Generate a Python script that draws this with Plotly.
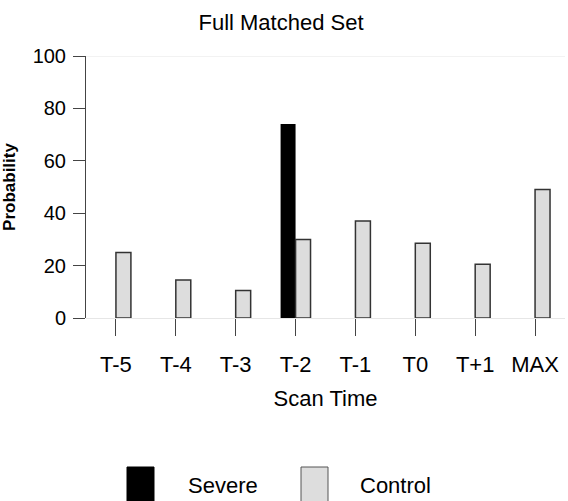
import plotly.graph_objects as go

categories = ["T-5", "T-4", "T-3", "T-2", "T-1", "T0", "T+1", "MAX"]
severe = [0, 0, 0, 74, 0, 0, 0, 0]
control = [25, 14.5, 10.5, 30, 37, 28.5, 20.5, 49]
y_ticks = [0, 20, 40, 60, 80, 100]

FONT = "Liberation Sans, Arial, sans-serif"

fig = go.Figure()
fig.add_trace(go.Bar(name="Severe", x=categories, y=severe,
                     marker=dict(color="#000000", line=dict(width=0))))
fig.add_trace(go.Bar(name="Control", x=categories, y=control,
                     marker=dict(color="#dddddd", line=dict(color="#333333", width=1.5))))

fig.update_layout(
    width=568, height=501,
    paper_bgcolor="white", plot_bgcolor="white",
    barmode="group", bargap=0.5, bargroupgap=0,
    showlegend=False,
    margin=dict(l=86, r=3, t=56, b=183),
    font=dict(family=FONT, color="#000000"),
    title=dict(text="Full Matched Set", x=281 / 568, xanchor="center", y=1 - 22 / 501, yanchor="middle",
               font=dict(size=22, family=FONT)),
)
fig.update_xaxes(
    type="category", range=[-0.5, 7.5],
    showline=False, showgrid=False, zeroline=False,
    ticks="outside", ticklen=17, tickwidth=1, tickcolor="#444444",
    tickfont=dict(size=22), ticklabelstandoff=10,
    title=dict(text="Scan Time", font=dict(size=22), standoff=14),
)
fig.update_yaxes(
    range=[0, 100], tickvals=y_ticks,
    showline=True, linecolor="#444444", linewidth=1,
    showgrid=False, zeroline=True, zerolinecolor="#e6e6e6", zerolinewidth=1,
    ticks="outside", ticklen=12, tickwidth=1, tickcolor="#444444",
    tickfont=dict(size=20), ticklabelstandoff=3,
    title=dict(text="<b>Probability</b>", font=dict(size=17), standoff=14),
)
# faint top reference line at 100
fig.add_shape(type="line", xref="paper", yref="y", x0=0, x1=1, y0=100, y1=100,
              line=dict(color="#e6e6e6", width=1), layer="below")

# custom legend (large swatches as in reference)
PX_W, PX_H, L, T0 = 479, 262, 86, 318
legend_items = [("Severe", "#000000", "#000000", 127, 186),
                ("Control", "#dddddd", "#555555", 301, 358)]
for name, fill, edge, sx, tx in legend_items:
    fig.add_shape(type="rect", xref="paper", yref="paper",
                  x0=(sx - L) / PX_W, x1=(sx + 27 - L) / PX_W,
                  y0=(T0 - 503) / PX_H, y1=(T0 - 467) / PX_H,
                  fillcolor=fill, line=dict(color=edge, width=1))
    fig.add_annotation(text=name, xref="paper", yref="paper",
                       x=(tx - L) / PX_W, y=(T0 - 485) / PX_H,
                       xanchor="left", yanchor="middle", showarrow=False,
                       font=dict(size=22, family=FONT))

fig.write_html("out.html", config={"displayModeBar": False},
               post_script="document.body.style.margin='0';document.body.style.padding='0';")
